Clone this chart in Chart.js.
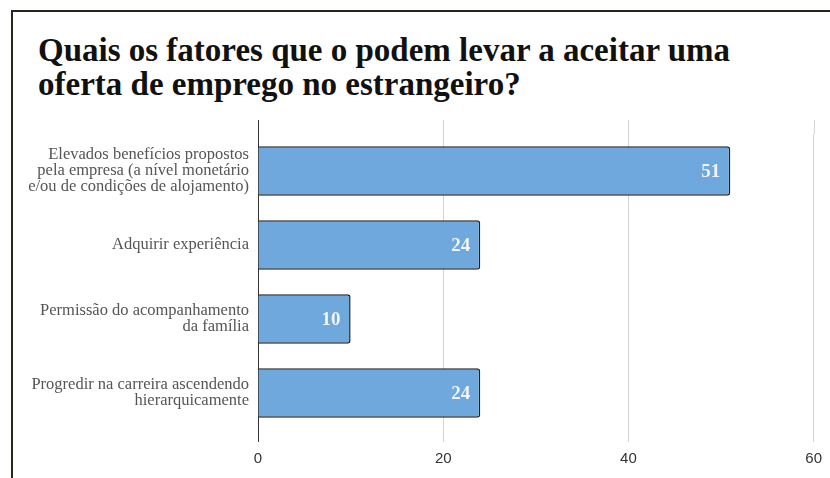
<!DOCTYPE html>
<html lang="pt">
<head>
  <meta charset="UTF-8">
  <title>Fatores para aceitar oferta no estrangeiro</title>
  <script src="https://cdn.jsdelivr.net/npm/chart.js"></script>
  <style>
    html, body {
      margin: 0;
      padding: 0;
      background: #fff;
    }
    .wrap {
      position: relative;
      width: 830px;
      height: 478px;
      overflow: hidden;
    }
    .frame {
      position: absolute;
      left: 11px;
      top: 10px;
      width: 900px;
      height: 600px;
      border-top: 2px solid #28271f;
      border-left: 2px solid #28271f;
    }
    h1 {
      position: absolute;
      left: 38px;
      top: 33px;
      margin: 0;
      font-family: 'Liberation Serif', serif;
      font-weight: bold;
      font-size: 33px;
      line-height: 34px;
      color: #111;
    }
    canvas {
      position: absolute;
      left: 0;
      top: 0;
    }
  </style>
</head>
<body>
  <div class="wrap">
    <div class="frame"></div>
    <h1>Quais os fatores que o podem levar a aceitar uma<br>oferta de emprego no estrangeiro?</h1>
    <canvas id="chart" width="830" height="478"></canvas>
  </div>

  <script>
    // dados
    const categories = [
      ["Elevados benefícios propostos", "pela empresa (a nível monetário", "e/ou de condições de alojamento)"],
      "Adquirir experiência",
      ["Permissão do acompanhamento", "da família"],
      ["Progredir na carreira ascendendo", "hierarquicamente"]
    ];
    const values = [51, 24, 10, 24];
    const xMin = 0;
    const xMax = 60;
    const xStep = 20;

    const serif = "'Liberation Serif', 'Times New Roman', serif";
    const gridColor = v => (v === 0 ? "#333" : "#d4d4d4");

    // prolonga as linhas de grelha acima da área do gráfico
    const gridTop = {
      id: "gridTop",
      beforeDatasetsDraw(chart) {
        const { ctx, chartArea } = chart;
        const x = chart.scales.x;
        ctx.save();
        ctx.lineWidth = 1;
        x.ticks.forEach(t => {
          const px = Math.round(x.getPixelForValue(t.value)) + 0.5;
          ctx.strokeStyle = gridColor(t.value);
          ctx.beginPath();
          ctx.moveTo(px, chartArea.top - 14);
          ctx.lineTo(px, chartArea.top);
          ctx.stroke();
        });
        ctx.restore();
      }
    };

    // valores dentro das barras
    const barValues = {
      id: "barValues",
      afterDatasetsDraw(chart) {
        const { ctx } = chart;
        const meta = chart.getDatasetMeta(0);
        ctx.save();
        ctx.font = "bold 19px " + serif;
        ctx.fillStyle = "#f4f4f4";
        ctx.textAlign = "right";
        ctx.textBaseline = "middle";
        meta.data.forEach((bar, i) => {
          ctx.fillText(values[i], bar.x - 10, bar.y + 1);
        });
        ctx.restore();
      }
    };

    new Chart(document.getElementById("chart"), {
      type: "bar",
      data: {
        labels: categories,
        datasets: [{
          data: values,
          backgroundColor: "#6fa8dc",
          borderColor: "#222",
          borderWidth: 1.5,
          borderRadius: 3,
          borderSkipped: "start",
          categoryPercentage: 1,
          barPercentage: 0.67
        }]
      },
      options: {
        indexAxis: "y",
        responsive: false,
        animation: false,
        layout: {
          padding: { left: 20, right: 10, top: 134, bottom: 0 }
        },
        plugins: {
          legend: { display: false },
          tooltip: { enabled: false }
        },
        scales: {
          x: {
            min: xMin,
            max: xMax,
            afterFit(scale) { scale.height = 48; },
            ticks: {
              stepSize: xStep,
              color: "#333",
              padding: 8,
              font: { family: "'Liberation Sans', Arial, sans-serif", size: 15 }
            },
            grid: {
              color: ctx => gridColor(ctx.tick.value),
              tickLength: 12
            },
            border: { display: false }
          },
          y: {
            afterFit(scale) { scale.width = 238; },
            ticks: {
              color: "#555",
              padding: 9,
              font: { family: serif, size: 16.5, lineHeight: 0.97 }
            },
            grid: { display: false, drawTicks: false },
            border: { display: false }
          }
        }
      },
      plugins: [gridTop, barValues]
    });
  </script>
</body>
</html>
